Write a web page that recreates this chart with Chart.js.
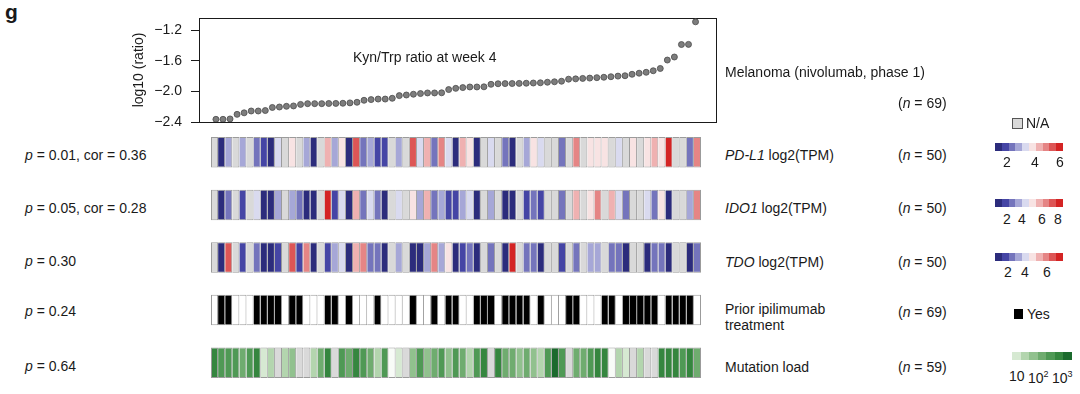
<!DOCTYPE html>
<html>
<head>
<meta charset="utf-8">
<script src="https://cdn.jsdelivr.net/npm/chart.js@4.4.0/dist/chart.umd.min.js"></script>
<style>
    body {
        margin: 0;
        width: 1080px;
        height: 394px;
        position: relative;
        overflow: hidden;
        background: #fff;
        color: #1a1a1a;
        font-family: "Liberation Sans", Arial, sans-serif;
        font-size: 14px;
    }
    canvas { position: absolute; }
    .lbl {
        position: absolute;
        white-space: nowrap;
        line-height: 16px;
        transform: translateY(-50%);
    }
    .panel { position: absolute; left: 5px; top: 0; font-size: 21px; font-weight: bold; }
    .ramp { position: absolute; display: flex; height: 8px; }
    .ramp span { flex: 1; }
    .box { position: absolute; width: 9px; height: 9px; }
    sup { font-size: 9px; }
</style>
</head>
<body>
<div class="panel">g</div>

<canvas id="kynChart" width="601" height="140" style="left:129px; top:0px;"></canvas>
<canvas id="heatChart" width="490" height="263" style="left:211px; top:126px;"></canvas>

<div class="lbl" style="left:353px; top:57px;">Kyn/Trp ratio at week 4</div>

<!-- colonna sinistra: statistiche -->
<div class="lbl" style="left:25px; top:155px;"><i>p</i> = 0.01, cor = 0.36</div>
<div class="lbl" style="left:25px; top:208px;"><i>p</i> = 0.05, cor = 0.28</div>
<div class="lbl" style="left:25px; top:261px;"><i>p</i> = 0.30</div>
<div class="lbl" style="left:25px; top:311px;"><i>p</i> = 0.24</div>
<div class="lbl" style="left:25px; top:366px;"><i>p</i> = 0.64</div>

<!-- etichette delle righe -->
<div class="lbl" style="left:725px; top:72px;">Melanoma (nivolumab, phase 1)</div>
<div class="lbl" style="left:725px; top:155px;"><i>PD-L1</i> log2(TPM)</div>
<div class="lbl" style="left:725px; top:208px;"><i>IDO1</i> log2(TPM)</div>
<div class="lbl" style="left:725px; top:262px;"><i>TDO</i> log2(TPM)</div>
<div class="lbl" style="left:725px; top:317px;">Prior ipilimumab<br>treatment</div>
<div class="lbl" style="left:725px; top:367px;">Mutation load</div>

<div class="lbl" style="left:898px; top:103px;">(<i>n</i> = 69)</div>
<div class="lbl" style="left:898px; top:155px;">(<i>n</i> = 50)</div>
<div class="lbl" style="left:898px; top:208px;">(<i>n</i> = 50)</div>
<div class="lbl" style="left:898px; top:262px;">(<i>n</i> = 50)</div>
<div class="lbl" style="left:898px; top:312px;">(<i>n</i> = 69)</div>
<div class="lbl" style="left:898px; top:367px;">(<i>n</i> = 59)</div>

<!-- legende -->
<div class="box" style="left:1012px; top:118px; background:#d9d9d9; border:1px solid #555;"></div>
<div class="lbl" style="left:1026px; top:123px;">N/A</div>

<div class="ramp" id="rampPdl1" style="left:995px; top:143px; width:68px;"></div>
<div class="lbl" style="left:1003px; top:162px;">2</div>
<div class="lbl" style="left:1031px; top:162px;">4</div>
<div class="lbl" style="left:1056px; top:162px;">6</div>

<div class="ramp" id="rampIdo1" style="left:995px; top:199px; width:68px;"></div>
<div class="lbl" style="left:1003px; top:219px;">2</div>
<div class="lbl" style="left:1018px; top:219px;">4</div>
<div class="lbl" style="left:1038px; top:219px;">6</div>
<div class="lbl" style="left:1054px; top:219px;">8</div>

<div class="ramp" id="rampTdo" style="left:995px; top:253px; width:68px;"></div>
<div class="lbl" style="left:1004px; top:272px;">2</div>
<div class="lbl" style="left:1021px; top:272px;">4</div>
<div class="lbl" style="left:1043px; top:272px;">6</div>

<div class="box" style="left:1014px; top:309px; width:9px; height:10px; background:#000;"></div>
<div class="lbl" style="left:1027px; top:314px;">Yes</div>

<div class="ramp" id="rampMut" style="left:1012px; top:352px; width:60px;"></div>
<div class="lbl" style="left:1009px; top:376px;">10</div>
<div class="lbl" style="left:1028px; top:376px;">10<sup>2</sup></div>
<div class="lbl" style="left:1052px; top:376px;">10<sup>3</sup></div>

<script>
// Rapporto Kyn/Trp alla settimana 4 (log10), pazienti ordinati
const kynRatio = [
    -2.365, -2.365, -2.36, -2.30, -2.28, -2.256, -2.256, -2.25, -2.21, -2.204,
    -2.195, -2.19, -2.17, -2.16, -2.16, -2.16, -2.158, -2.157, -2.155, -2.15,
    -2.142, -2.116, -2.107, -2.10, -2.10, -2.09, -2.055, -2.047, -2.037, -2.028,
    -2.02, -2.02, -2.018, -1.976, -1.96, -1.95, -1.942, -1.942, -1.94, -1.907,
    -1.90, -1.898, -1.897, -1.895, -1.893, -1.89, -1.887, -1.88, -1.874, -1.867,
    -1.84, -1.836, -1.83, -1.826, -1.82, -1.815, -1.808, -1.80, -1.795, -1.776,
    -1.762, -1.75, -1.73, -1.70, -1.59, -1.55, -1.387, -1.385, -1.09
];
const yTicks = [-2.4, -2.0, -1.6, -1.2];

// Espressione log2(TPM), null = N/A
const pdl1 = [
    null, 1.3, 2.9, null, 2.9, null, 2.4, 1.8, 1.3, 3.5,
    null, 4.0, null, 2.9, 1.3, null, 4.6, 3.0, 4.0, 1.3,
    5.7, 2.4, 2.9, 1.8, 1.8, null, 2.9, null, 5.7, 3.5,
    4.6, 2.4, 5.1, 3.5, 1.3, 4.6, 4.0, 1.3, null, 3.5,
    null, 2.4, 1.3, null, 2.9, 4.0, 3.5, null, null, 2.4,
    null, 5.1, null, 4.0, 4.0, 4.0, null, 3.5, null, 4.0,
    null, 4.0, 4.6, 4.0, 6.2, null, null, 2.4, 5.1
];
const ido1 = [
    null, 0.9, 2.6, null, 1.8, null, 4.3, 0.9, 0.9, 3.5,
    null, 3.5, 2.6, 0.9, 0.9, null, 8.6, 1.8, 4.3, 0.9,
    6.0, 2.6, 4.3, 2.6, 0.9, null, 4.3, null, 5.2, 3.5,
    6.0, 2.6, 3.5, 1.8, 1.8, 3.5, 4.3, 0.9, null, 3.5,
    null, 0.9, 0.9, null, 1.8, 2.6, 1.8, null, null, 2.6,
    null, 6.0, null, 5.2, 6.9, null, 6.0, 4.3, 2.6, null,
    null, 4.3, 2.6, 5.2, 0.9, null, null, 3.5, 6.9
];
const tdo = [
    null, 0.8, 6.0, null, 1.5, null, 2.1, 0.8, 0.8, 1.5,
    null, 6.0, 1.5, 5.4, 0.8, null, 1.5, 2.8, 3.4, 0.8,
    4.7, 5.4, 2.1, 2.1, 0.8, null, 2.8, null, 0.8, 0.8,
    2.8, 5.4, 2.8, 4.1, 0.8, 1.5, 2.1, 0.8, null, 2.1,
    null, 0.8, 6.7, null, 2.1, 2.1, 0.8, null, null, 1.5,
    null, 2.1, null, 2.8, 2.8, null, 2.1, 2.1, 0.8, null,
    null, 0.8, 2.1, 2.1, 0.8, null, null, 0.8, 2.1
];
// Ipilimumab precedente: 1 = sì, 0 = no
const priorIpi = [
    0, 1, 1, 0, 0, 0, 1, 1, 1, 1,
    0, 1, 1, 0, 0, 0, 1, 1, 0, 1,
    0, 0, 0, 1, 0, 0, 0, 0, 1, 0,
    0, 1, 0, 1, 1, 0, 0, 1, 1, 1,
    0, 1, 1, 1, 1, 0, 1, 0, 0, 0,
    1, 1, 0, 0, 0, 1, 1, 0, 1, 1,
    1, 1, 1, 0, 1, 1, 1, 1, 0
];
// Carico mutazionale (numero di mutazioni), null = N/A
const mutationLoad = [
    600, 250, 250, 250, 100, 250, 600, 10, 20, null,
    20, 50, null, null, 20, 100, 600, null, 250, 100,
    600, 250, 100, 20, 250, 5, 10, null, 50, 250,
    50, 100, 250, 50, 250, 100, 20, 250, 600, null,
    600, 100, 100, 50, 100, 50, 20, 250, 1500, 250,
    null, 100, 100, 250, 600, 600, 5, 20, 10, null,
    20, null, null, 600, 600, 600, 250, 600, 100
];

const NA_COLOR = '#d9d9d9';
const divergingPalette = ['#2c2c7c', '#4545a5', '#7474bc', '#a6a7d7', '#d9daef',
                          '#f8e3e3', '#efb1b1', '#e58585', '#dd5656', '#d42424'];
const greenPalette = ['#f8fbf7', '#d6e9d2', '#b3d5ae', '#91c18e', '#6fac6f', '#4f9955', '#35863f', '#1b6a2d'];

// Converte un valore nel colore della scala divergente
function divergingColor(lo, step) {
    return v => {
        if (v === null) return NA_COLOR;
        const idx = Math.max(0, Math.min(9, Math.floor((v - lo) / step)));
        return divergingPalette[idx];
    };
}

function mutationColor(v) {
    if (v === null) return NA_COLOR;
    const idx = Math.max(0, Math.min(7, Math.floor((Math.log10(v) - 0.6) / 0.35)));
    return greenPalette[idx];
}

const rows = [
    { key: 'pdl1', values: pdl1, color: divergingColor(1, 0.55) },
    { key: 'ido1', values: ido1, color: divergingColor(0.5, 0.85) },
    { key: 'tdo', values: tdo, color: divergingColor(0.5, 0.65) },
    { key: 'ipi', values: priorIpi, color: v => v ? '#000000' : '#ffffff' },
    { key: 'mut', values: mutationLoad, color: mutationColor }
];

Chart.defaults.font.family = '"Liberation Sans", Arial, sans-serif';
Chart.defaults.color = '#1a1a1a';

// Cornice attorno all'area del grafico
const framePlugin = {
    id: 'frame',
    beforeDatasetsDraw(chart) {
        const { ctx, chartArea: a } = chart;
        ctx.save();
        ctx.strokeStyle = '#1a1a1a';
        ctx.lineWidth = 1;
        ctx.strokeRect(Math.round(a.left) + 0.5, Math.round(a.top) + 0.5,
                       Math.round(a.right - a.left), Math.round(a.bottom - a.top));
        ctx.restore();
    }
};

new Chart(document.getElementById('kynChart'), {
    type: 'scatter',
    data: {
        datasets: [{
            data: kynRatio.map((v, i) => ({ x: i + 1, y: v })),
            pointRadius: 3.0,
            pointBackgroundColor: '#7d7d7d',
            pointBorderColor: '#4a4a4a',
            pointBorderWidth: 0.8
        }]
    },
    options: {
        responsive: false,
        animation: false,
        layout: { padding: { top: 18, right: 14, bottom: 18, left: 0 } },
        plugins: { legend: { display: false }, tooltip: { enabled: false } },
        scales: {
            x: { type: 'linear', display: false, min: -1.4, max: 71.9 },
            y: {
                type: 'linear',
                min: -2.4,
                max: -1.04,
                afterBuildTicks: axis => { axis.ticks = yTicks.map(v => ({ value: v })); },
                afterFit: axis => { axis.width = 70; },
                ticks: {
                    font: { size: 14 },
                    padding: 9,
                    callback: v => v.toFixed(1).replace('-', '\u2212')
                },
                grid: { drawOnChartArea: false, tickLength: 8, color: '#1a1a1a' },
                border: { color: '#1a1a1a' },
                title: { display: true, text: 'log10 (ratio)', font: { size: 14 }, padding: { top: 2, bottom: 0 } }
            }
        }
    },
    plugins: [framePlugin]
});

new Chart(document.getElementById('heatChart'), {
    type: 'bar',
    data: {
        labels: rows.map(r => r.key),
        datasets: rows.map(r => ({
            data: r.values.map((v, i) => ({ x: [i, i + 1], y: r.key })),
            backgroundColor: r.values.map(r.color),
            borderColor: '#9b9b9b',
            borderWidth: ctx => ({ top: 1, bottom: 1, right: 1, left: ctx.dataIndex === 0 ? 1 : 0 }),
            borderSkipped: false,
            grouped: false,
            barPercentage: 0.58,
            categoryPercentage: 1
        }))
    },
    options: {
        indexAxis: 'y',
        responsive: false,
        animation: false,
        plugins: { legend: { display: false }, tooltip: { enabled: false } },
        scales: {
            x: { type: 'linear', min: 0, max: kynRatio.length, display: false },
            y: { type: 'category', display: false }
        }
    }
});

// Legende a scala di colore
function fillRamp(id, colors) {
    document.getElementById(id).innerHTML = colors.map(c => `<span style="background:${c}"></span>`).join('');
}
fillRamp('rampPdl1', divergingPalette);
fillRamp('rampIdo1', divergingPalette);
fillRamp('rampTdo', divergingPalette);
fillRamp('rampMut', greenPalette.slice(1));
</script>
</body>
</html>
